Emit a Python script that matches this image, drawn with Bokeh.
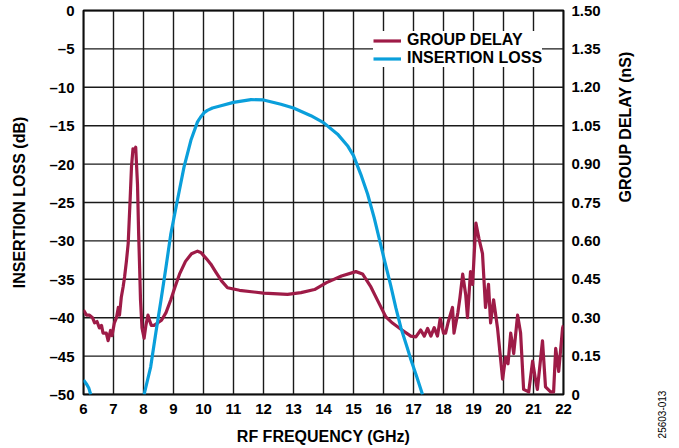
import math
from bokeh.plotting import figure
from bokeh.models import (Range1d, LinearAxis, FixedTicker, CustomJSTickFormatter,
                          Legend, LegendItem)
from bokeh.layouts import row
from bokeh.core.properties import value
from bokeh.embed import file_html
from bokeh.resources import INLINE

# ---------------- data ----------------
NaN = float("nan")

freq_il = [6.0, 6.11, 6.18, 6.24, NaN,
           8.02, 8.24, 8.41, 8.58, 8.75, 8.91, 9.13, 9.35, 9.58, 9.8, 9.9, 10.02, 10.13,
           10.3, 10.58, 11.0, 11.58, 12.0, 12.58, 13.0, 13.58, 14.0, 14.47, 14.8, 15.0,
           15.24, 15.47, 15.69, 16.0, 16.24, 16.41, 16.58, 16.8, 16.9, 17.1, 17.3]
insertion_loss_db = [-48.1, -48.7, -49.2, -50.0, NaN,
                     -50.0, -46.4, -42.0, -37.8, -33.4, -29.1, -24.7, -20.4, -16.9, -14.5, -13.9, -13.3, -13.0,
                     -12.7, -12.4, -11.96, -11.6, -11.65, -12.2, -12.7, -13.7, -14.6, -16.1, -17.6, -18.9,
                     -21.3, -23.9, -27.0, -32.0, -35.8, -38.7, -41.3, -44.0, -45.3, -47.6, -50.0]

freq_gd = [6.0, 6.1, 6.2, 6.3, 6.37, 6.45, 6.53, 6.6, 6.65, 6.76, 6.82, 6.9, 6.95, 7.03,
           7.1, 7.16, 7.2, 7.26, 7.32, 7.37, 7.43, 7.49, 7.55, 7.6, 7.65, 7.7, 7.74, 7.8,
           7.84, 7.87, 7.9, 7.95, 8.02, 8.08, 8.15, 8.2, 8.26, 8.35, 8.48, 8.6, 8.75,
           8.91, 9.05, 9.2, 9.4, 9.6, 9.8, 9.91, 10.1, 10.24, 10.4, 10.6, 10.8, 11.2,
           12.0, 12.8, 13.25, 13.7, 14.1, 14.6, 15.08, 15.3, 15.58, 15.86, 16.08, 16.3,
           16.58, 16.91, 17.08, 17.24, 17.36, 17.47, 17.58, 17.69, 17.8, 17.89, 18.0,
           18.07, 18.15, 18.3, 18.35, 18.48, 18.55, 18.64, 18.74, 18.8, 18.9, 18.97,
           19.08, 19.18, 19.3, 19.4, 19.5, 19.57, 19.67, 19.8, 19.97, 20.07, 20.15,
           20.24, 20.34, 20.47, 20.57, 20.67, 20.84, 20.97, 21.07, 21.13, 21.3, 21.4,
           21.57, 21.67, 21.74, 21.84, 21.97, 22.0]
group_delay_ns = [0.33, 0.31, 0.31, 0.30, 0.28, 0.285, 0.26, 0.27, 0.24, 0.24, 0.21, 0.25, 0.23, 0.28,
                  0.30, 0.34, 0.31, 0.38, 0.42, 0.46, 0.52, 0.59, 0.75, 0.89, 0.96, 0.95, 0.966, 0.82,
                  0.62, 0.50, 0.37, 0.26, 0.22, 0.27, 0.31, 0.29, 0.27, 0.27, 0.28, 0.29, 0.32,
                  0.37, 0.42, 0.47, 0.52, 0.55, 0.56, 0.555, 0.53, 0.51, 0.48, 0.444, 0.417, 0.407,
                  0.396, 0.391, 0.398, 0.41, 0.437, 0.463, 0.48, 0.471, 0.42, 0.354, 0.303, 0.279,
                  0.255, 0.228, 0.225, 0.252, 0.228, 0.258, 0.228, 0.261, 0.228, 0.297, 0.24,
                  0.24, 0.28, 0.34, 0.24, 0.32, 0.38, 0.47, 0.39, 0.30, 0.48, 0.43,
                  0.67, 0.61, 0.55, 0.34, 0.43, 0.28, 0.37, 0.26, 0.06, 0.145, 0.12,
                  0.24, 0.16, 0.31, 0.24, 0.02, 0.01, 0.13, 0.055, 0.02, 0.21, 0.03,
                  0.01, 0.01, 0.18, 0.09, 0.26, 0.27]

x_ticks = list(range(6, 23))
il_ticks = list(range(-50, 1, 5))
gd_ticks = [0, 0.15, 0.3, 0.45, 0.6, 0.75, 0.9, 1.05, 1.2, 1.35, 1.5]
figure_code = "25603-013"

RED = "#9e1b47"
BLUE = "#0a9fdb"
GRID = "#1a1a1a"
FONT = "Liberation Sans"

X_MIN, X_MAX = 6, 22
IL_MIN, IL_MAX = -50, 0

# ---------------- figure ----------------
p = figure(frame_width=480, frame_height=384,
           x_range=Range1d(X_MIN, X_MAX), y_range=Range1d(IL_MIN, IL_MAX),
           output_backend="svg", toolbar_location=None,
           min_border_left=83, min_border_top=10, min_border_right=90, min_border_bottom=52)
p.extra_y_ranges = {"gd": Range1d(0, 1.5)}

p.outline_line_color = "black"
p.outline_line_width = 2
p.background_fill_color = "white"
p.border_fill_color = "white"
p.xgrid.visible = False
p.ygrid.visible = False


def style_axis(ax, standoff, label_standoff):
    ax.axis_line_color = None
    ax.major_tick_line_color = None
    ax.minor_tick_line_color = None
    ax.major_tick_out = 0
    ax.major_tick_in = 0
    ax.minor_tick_out = 0
    ax.minor_tick_in = 0
    ax.major_label_text_font = FONT
    ax.major_label_text_font_style = "bold"
    ax.major_label_text_font_size = "15px"
    ax.major_label_text_color = "black"
    ax.major_label_standoff = standoff
    ax.axis_label_text_font = FONT
    ax.axis_label_text_font_style = "bold"
    ax.axis_label_text_font_size = "16px"
    ax.axis_label_text_color = "black"
    ax.axis_label_standoff = label_standoff


xax = p.xaxis[0]
xax.ticker = FixedTicker(ticks=x_ticks)
xax.axis_label = "RF FREQUENCY (GHz)"
style_axis(xax, 9, 11)

yax = p.yaxis[0]
yax.ticker = FixedTicker(ticks=il_ticks)
yax.axis_label = "INSERTION LOSS (dB)"
yax.formatter = CustomJSTickFormatter(code="return tick < 0 ? '\u2013' + Math.abs(tick) : '' + tick;")
style_axis(yax, 9, 18)

rax = LinearAxis(y_range_name="gd", axis_label="GROUP DELAY (nS)")
rax.ticker = FixedTicker(ticks=gd_ticks)
rax.formatter = CustomJSTickFormatter(code="return tick == 0 ? '0' : tick.toFixed(2);")
style_axis(rax, 8, 22)
rax.axis_label_orientation = math.pi / 2
p.add_layout(rax, "right")

# ---------------- grid lines at the tick positions ----------------
g_v = p.multi_line(xs=[[t, t] for t in x_ticks], ys=[[IL_MIN, IL_MAX] for _ in x_ticks],
                   line_color=GRID, line_width=1.4)
g_h = p.multi_line(xs=[[X_MIN, X_MAX] for _ in il_ticks], ys=[[t, t] for t in il_ticks],
                   line_color=GRID, line_width=1.4)

# ---------------- data lines ----------------
r_gd = p.line(freq_gd, group_delay_ns, y_range_name="gd", line_color=RED, line_width=3.2,
              line_join="round")
r_il = p.line(freq_il, insertion_loss_db, line_color=BLUE, line_width=3.2, line_join="round")

legend = Legend(items=[LegendItem(label="GROUP DELAY", renderers=[r_gd]),
                       LegendItem(label="INSERTION LOSS", renderers=[r_il]),
                       LegendItem(label="grid", renderers=[g_v, g_h], visible=False)],
                location=(290, 327))
legend.background_fill_color = "white"
legend.background_fill_alpha = 1.0
legend.border_line_color = None
legend.label_text_font = FONT
legend.label_text_font_style = "bold"
legend.label_text_font_size = "16px"
legend.label_text_line_height = 0.9
legend.label_text_color = "black"
legend.glyph_width = 28
legend.glyph_height = 15
legend.label_height = 15
legend.label_standoff = 6
legend.spacing = 0
legend.padding = 9
legend.margin = 0
p.add_layout(legend, "center")

# ---------------- side strip with the figure code ----------------
side = figure(frame_width=16, frame_height=446, x_range=Range1d(0, 1), y_range=Range1d(0, 446),
              output_backend="svg", toolbar_location=None,
              min_border_left=0, min_border_right=0, min_border_top=0, min_border_bottom=0)
side.axis.visible = False
side.grid.visible = False
side.outline_line_color = None
side.background_fill_color = "white"
side.border_fill_color = "white"
side.text(x=[0.5], y=[42], text=[figure_code], angle=math.pi / 2,
          text_align="center", text_baseline="middle",
          text_font=value(FONT), text_font_size="10px", text_color="black")

layout = row(p, side)
open("out.html", "w").write(file_html(layout, INLINE))
